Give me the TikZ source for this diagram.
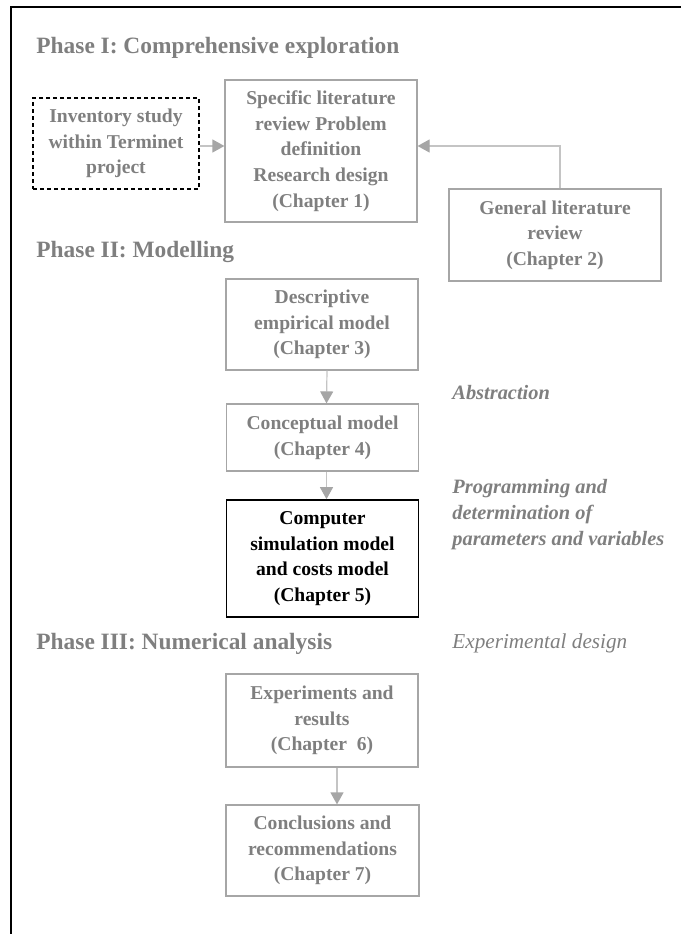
\documentclass[tikz,border=0pt]{standalone}
\usepackage{fontspec}
\setmainfont{Liberation Serif}
\usetikzlibrary{arrows.meta,positioning}
\definecolor{TxtGray}{HTML}{7F7F7F}
\definecolor{BoxGray}{HTML}{A6A6A6}
\definecolor{LinkGray}{HTML}{C4C4C4}

\begin{document}
\begin{tikzpicture}[x=.5pt,y=-.5pt,
  box/.style={draw=BoxGray,line width=.6pt,inner sep=0pt,align=center,text=TxtGray,
    minimum width=96pt,font=\bfseries\fontsize{9.8}{12.8}\selectfont},
  phase/.style={anchor=base west,inner sep=0pt,text=TxtGray,
    font=\bfseries\fontsize{11.7}{14}\selectfont},
  note/.style={anchor=base west,inner sep=0pt,text=TxtGray,align=left,
    font=\bfseries\itshape\fontsize{10.2}{13}\selectfont},
  link/.style={LinkGray,line width=.6pt,-{Triangle[length=6pt,width=6.5pt,color=BoxGray]}}]
\useasboundingbox (0,0) rectangle (681,934);
\draw[line width=1pt] (11,934) -- (11,7) -- (681,7);

% Phase I
\node[phase] (ph1) at (36,53) {Phase I: Comprehensive exploration};
\node[box,draw=black,dashed,dash pattern=on 2pt off 1.5pt,line width=.8pt,
  minimum width=83pt,minimum height=45.5pt] (inv) at (116,143.5)
  {Inventory study\\within Terminet\\project};
\node[box,minimum height=71pt] (ch1) at (321,151)
  {Specific literature\\review Problem\\definition\\Research design\\(Chapter 1)};
\node[box,minimum width=106pt,minimum height=46pt] (gen) at (555,235)
  {General literature\\review\\(Chapter 2)};
\draw[link] ([yshift=-1.25pt]inv.east) -- ([yshift=-1.25pt]inv.east -| ch1.west);
\draw[link] ([xshift=2.5pt]gen.north) |- ([yshift=2.5pt]ch1.east);

% Phase II
\node[phase] (ph2) at (36,257) {Phase II: Modelling};
\node[box,minimum height=45.5pt] (desc) at (322,324.5)
  {Descriptive\\empirical model\\(Chapter 3)};
\node[box,minimum height=33.5pt] (conc) at (322.5,437.5)
  {Conceptual model\\(Chapter 4)};
\node[box,draw=black,text=black,line width=.8pt,minimum height=58.5pt] (comp) at (322.5,558.5)
  {Computer\\simulation model\\and costs model\\(Chapter 5)};
\draw[link] ([xshift=2.5pt]desc.south) -- ([xshift=2pt]conc.north);
\draw[link] ([xshift=2pt]conc.south) -- ([xshift=2pt]comp.north);
\node[note] (abst) at (452,399) {Abstraction};
% base sits on the last line here
\node[note] (prog) at (452,545)
  {Programming and\\determination of\\parameters and variables};

% Phase III
\node[phase] (ph3) at (36,649) {Phase III: Numerical analysis};
\node[note,font=\itshape\fontsize{10.6}{13}\selectfont] (expd) at (452,648) {Experimental design};
\node[box,minimum height=46.5pt] (exp) at (322,720.5)
  {Experiments and\\results\\(Chapter~~6)};
\node[box,minimum width=96.5pt,minimum height=45.5pt] (concl) at (322.5,850.5)
  {Conclusions and\\recommendations\\(Chapter 7)};
\draw[link] ([xshift=7.5pt]exp.south) -- ([xshift=7.5pt]exp.south |- concl.north);
\end{tikzpicture}
\end{document}
